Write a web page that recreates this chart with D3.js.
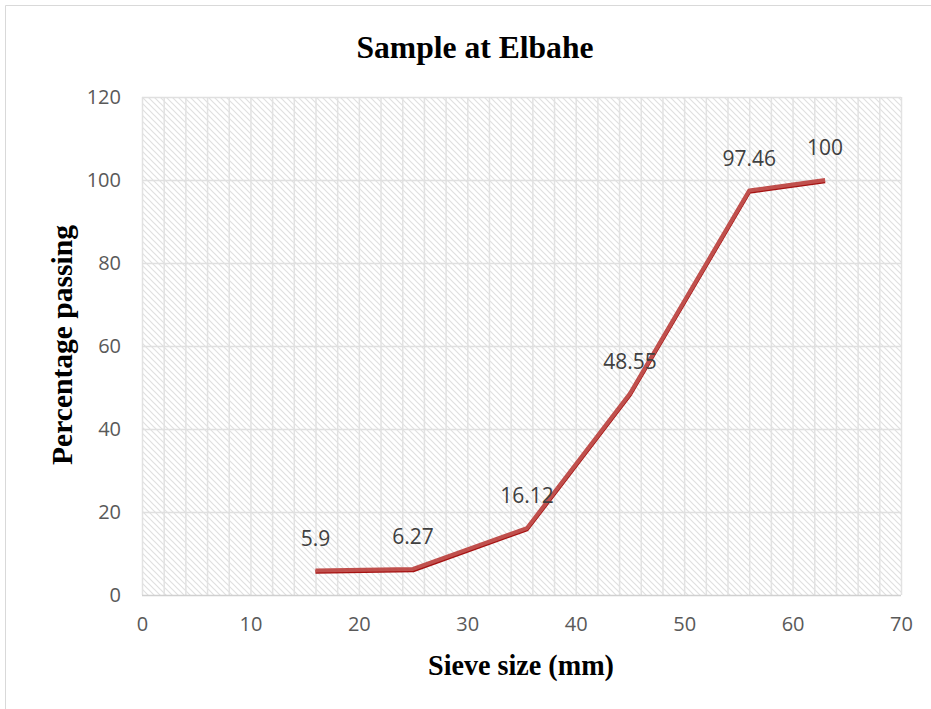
<!DOCTYPE html>
<html>
<head>
<meta charset="utf-8">
<script src="https://cdn.jsdelivr.net/npm/d3@7"></script>
<style>
  body { margin: 0; background: #fff; }
</style>
</head>
<body>
<div id="chart"></div>
<script>
const sieveSizes = [16, 25, 35.5, 45, 56, 63];
const passing = [5.9, 6.27, 16.12, 48.55, 97.46, 100];
const xTicks = [0, 10, 20, 30, 40, 50, 60, 70];
const yTicks = [0, 20, 40, 60, 80, 100, 120];

const W = 931, H = 709;
const Margin = { Top: 97, Left: 142, Right: 30, Bottom: 114 };
const Width = W - Margin.Left - Margin.Right;
const Height = H - Margin.Top - Margin.Bottom;

const data = sieveSizes.map((s, i) => ({ size: s, pct: passing[i] }));

const svg = d3.select('#chart').append('svg')
  .attr('width', W)
  .attr('height', H);

// hatch fill
const defs = svg.append('defs');
defs.append('pattern')
  .attr('id', 'hatch')
  .attr('patternUnits', 'userSpaceOnUse')
  .attr('width', 6)
  .attr('height', 6)
  .call(p => {
    p.append('path').attr('d', 'M-1,-1 L7,7 M-1,5 L1,7 M5,-1 L7,1')
      .attr('stroke', '#e0e0e0').attr('stroke-width', 1.2);
  });

// outer frame
svg.append('path')
  .attr('d', `M5.5,${H} L5.5,5.5 L${W},5.5`)
  .attr('fill', 'none')
  .attr('stroke', '#d9d9d9')
  .attr('stroke-width', 1);

const g = svg.append('g')
  .attr('transform', `translate(${Margin.Left}, ${Margin.Top})`);

const x = d3.scaleLinear().domain([0, 70]).range([0, Width]);
const y = d3.scaleLinear().domain([0, 120]).range([Height, 0]);

g.append('rect')
  .attr('width', Width)
  .attr('height', Height)
  .attr('fill', 'url(#hatch)');

// gridlines
g.append('g')
  .selectAll('line')
  .data(d3.range(0, 71, 2))
  .enter().append('line')
  .attr('x1', d => x(d) + 0.5).attr('x2', d => x(d) + 0.5)
  .attr('y1', 0).attr('y2', Height)
  .attr('stroke', '#e2e2e2').attr('stroke-width', 1.5);

g.append('g')
  .selectAll('line')
  .data(yTicks)
  .enter().append('line')
  .attr('x1', 0).attr('x2', Width)
  .attr('y1', d => y(d) + 0.5).attr('y2', d => y(d) + 0.5)
  .attr('stroke', d => d === 0 ? '#d0d0d0' : '#e0e0e0').attr('stroke-width', 1.5);

// axes (labels only)
const xAxisCall = d3.axisBottom(x).tickValues(xTicks).tickSize(0).tickPadding(22);
const xAxis = g.append('g')
  .attr('transform', `translate(0, ${Height})`)
  .call(xAxisCall);
const yAxisCall = d3.axisLeft(y).tickValues(yTicks).tickSize(0).tickPadding(21);
const yAxis = g.append('g').call(yAxisCall);

[xAxis, yAxis].forEach(a => {
  a.select('.domain').remove();
  a.selectAll('text')
    .attr('font-family', '"Open Sans", sans-serif')
    .attr('font-size', 20)
    .attr('fill', '#595959');
});

// line with darker underside
const line = d3.line().x(d => x(d.size)).y(d => y(d.pct));
g.append('path')
  .datum(data)
  .attr('d', line)
  .attr('transform', 'translate(0, 1.3)')
  .attr('fill', 'none')
  .attr('stroke', '#a51212')
  .attr('stroke-width', 4)
  .attr('stroke-linejoin', 'round');
g.append('path')
  .datum(data)
  .attr('d', line)
  .attr('fill', 'none')
  .attr('stroke', '#c0504d')
  .attr('stroke-width', 4)
  .attr('stroke-linejoin', 'round');

// data labels
g.selectAll('.lbl')
  .data(data)
  .enter().append('text')
  .attr('class', 'lbl')
  .attr('x', d => x(d.size))
  .attr('y', d => y(d.pct) - 25)
  .attr('text-anchor', 'middle')
  .attr('font-family', '"Open Sans", sans-serif')
  .attr('font-size', 21)
  .attr('fill', '#404040')
  .text(d => d.pct);

// titles
const serif = '"Liberation Serif", "Times New Roman", serif';
svg.append('text')
  .attr('x', 475).attr('y', 58)
  .attr('text-anchor', 'middle')
  .attr('font-family', serif)
  .attr('font-weight', 'bold')
  .attr('font-size', 31)
  .attr('textLength', 237)
  .attr('lengthAdjust', 'spacingAndGlyphs')
  .text('Sample at Elbahe');

svg.append('text')
  .attr('x', 521).attr('y', 675)
  .attr('text-anchor', 'middle')
  .attr('font-family', serif)
  .attr('font-weight', 'bold')
  .attr('font-size', 29)
  .attr('textLength', 186)
  .attr('lengthAdjust', 'spacingAndGlyphs')
  .text('Sieve size (mm)');

svg.append('text')
  .attr('transform', 'translate(72, 345) rotate(-90)')
  .attr('text-anchor', 'middle')
  .attr('font-family', serif)
  .attr('font-weight', 'bold')
  .attr('font-size', 29)
  .attr('textLength', 240)
  .attr('lengthAdjust', 'spacingAndGlyphs')
  .text('Percentage  passing');
</script>
</body>
</html>
